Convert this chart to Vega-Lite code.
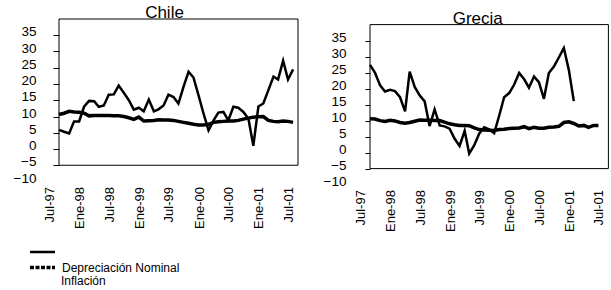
{
  "$schema": "https://vega.github.io/schema/vega-lite/v6.json",
  "padding": {"left": 13, "top": 3, "right": 0, "bottom": 0},
  "config": {
    "font": "Liberation Sans",
    "view": {"stroke": null},
    "axis": {"grid": false, "domain": false, "labelColor": "#000", "tickColor": "#000", "labelFont": "Liberation Sans", "labelOverlap": false, "labelFlush": false},
    "title": {"font": "Liberation Sans", "fontSize": 17, "fontWeight": "normal", "color": "#000", "anchor": "middle", "frame": "group"}
  },
  "datasets": {
    "chile": [
      {"fecha": "1997-07-01", "Depreciación Nominal": 5.9, "Inflación": 10.6},
      {"fecha": "1997-08-01", "Depreciación Nominal": 5.3, "Inflación": 11.0},
      {"fecha": "1997-09-01", "Depreciación Nominal": 4.8, "Inflación": 11.6},
      {"fecha": "1997-10-01", "Depreciación Nominal": 8.5, "Inflación": 11.4},
      {"fecha": "1997-11-01", "Depreciación Nominal": 8.5, "Inflación": 11.3},
      {"fecha": "1997-12-01", "Depreciación Nominal": 13.0, "Inflación": 11.0},
      {"fecha": "1998-01-01", "Depreciación Nominal": 14.8, "Inflación": 10.2},
      {"fecha": "1998-02-01", "Depreciación Nominal": 14.7, "Inflación": 10.3},
      {"fecha": "1998-03-01", "Depreciación Nominal": 13.0, "Inflación": 10.3},
      {"fecha": "1998-04-01", "Depreciación Nominal": 13.4, "Inflación": 10.3},
      {"fecha": "1998-05-01", "Depreciación Nominal": 16.7, "Inflación": 10.3},
      {"fecha": "1998-06-01", "Depreciación Nominal": 16.8, "Inflación": 10.2},
      {"fecha": "1998-07-01", "Depreciación Nominal": 19.5, "Inflación": 10.2},
      {"fecha": "1998-08-01", "Depreciación Nominal": 17.3, "Inflación": 10.0},
      {"fecha": "1998-09-01", "Depreciación Nominal": 15.0, "Inflación": 9.6},
      {"fecha": "1998-10-01", "Depreciación Nominal": 12.1, "Inflación": 9.1},
      {"fecha": "1998-11-01", "Depreciación Nominal": 12.7, "Inflación": 9.8},
      {"fecha": "1998-12-01", "Depreciación Nominal": 11.6, "Inflación": 8.6},
      {"fecha": "1999-01-01", "Depreciación Nominal": 15.2, "Inflación": 8.7},
      {"fecha": "1999-02-01", "Depreciación Nominal": 11.6, "Inflación": 8.8},
      {"fecha": "1999-03-01", "Depreciación Nominal": 12.2, "Inflación": 9.0},
      {"fecha": "1999-04-01", "Depreciación Nominal": 13.4, "Inflación": 8.9},
      {"fecha": "1999-05-01", "Depreciación Nominal": 16.7, "Inflación": 8.9},
      {"fecha": "1999-06-01", "Depreciación Nominal": 16.0, "Inflación": 8.8},
      {"fecha": "1999-07-01", "Depreciación Nominal": 14.0, "Inflación": 8.5},
      {"fecha": "1999-08-01", "Depreciación Nominal": 19.1, "Inflación": 8.2},
      {"fecha": "1999-09-01", "Depreciación Nominal": 23.8, "Inflación": 7.9},
      {"fecha": "1999-10-01", "Depreciación Nominal": 22.0, "Inflación": 7.6},
      {"fecha": "1999-11-01", "Depreciación Nominal": 16.5, "Inflación": 7.4},
      {"fecha": "1999-12-01", "Depreciación Nominal": 11.0, "Inflación": 7.4},
      {"fecha": "2000-01-01", "Depreciación Nominal": 5.7, "Inflación": 7.6},
      {"fecha": "2000-02-01", "Depreciación Nominal": 8.8, "Inflación": 8.2},
      {"fecha": "2000-03-01", "Depreciación Nominal": 11.2, "Inflación": 8.4},
      {"fecha": "2000-04-01", "Depreciación Nominal": 11.4, "Inflación": 8.5},
      {"fecha": "2000-05-01", "Depreciación Nominal": 8.8, "Inflación": 8.6},
      {"fecha": "2000-06-01", "Depreciación Nominal": 13.0, "Inflación": 8.6},
      {"fecha": "2000-07-01", "Depreciación Nominal": 12.7, "Inflación": 8.8},
      {"fecha": "2000-08-01", "Depreciación Nominal": 11.4, "Inflación": 9.2},
      {"fecha": "2000-09-01", "Depreciación Nominal": 9.3, "Inflación": 9.5},
      {"fecha": "2000-10-01", "Depreciación Nominal": 1.0, "Inflación": 9.8},
      {"fecha": "2000-11-01", "Depreciación Nominal": 13.1, "Inflación": 9.9},
      {"fecha": "2000-12-01", "Depreciación Nominal": 14.0, "Inflación": 10.0},
      {"fecha": "2001-01-01", "Depreciación Nominal": 18.1, "Inflación": 8.8},
      {"fecha": "2001-02-01", "Depreciación Nominal": 22.3, "Inflación": 8.5},
      {"fecha": "2001-03-01", "Depreciación Nominal": 21.4, "Inflación": 8.4},
      {"fecha": "2001-04-01", "Depreciación Nominal": 27.2, "Inflación": 8.6},
      {"fecha": "2001-05-01", "Depreciación Nominal": 21.4, "Inflación": 8.5},
      {"fecha": "2001-06-01", "Depreciación Nominal": 24.5, "Inflación": 8.2}
    ],
    "grecia": [
      {"fecha": "1997-07-01", "Depreciación Nominal": 27.4, "Inflación": 10.6},
      {"fecha": "1997-08-01", "Depreciación Nominal": 24.9, "Inflación": 10.5},
      {"fecha": "1997-09-01", "Depreciación Nominal": 21.0, "Inflación": 10.0},
      {"fecha": "1997-10-01", "Depreciación Nominal": 19.1, "Inflación": 9.7},
      {"fecha": "1997-11-01", "Depreciación Nominal": 19.6, "Inflación": 10.1},
      {"fecha": "1997-12-01", "Depreciación Nominal": 19.2, "Inflación": 9.9},
      {"fecha": "1998-01-01", "Depreciación Nominal": 17.3, "Inflación": 9.4},
      {"fecha": "1998-02-01", "Depreciación Nominal": 12.9, "Inflación": 9.2},
      {"fecha": "1998-03-01", "Depreciación Nominal": 25.3, "Inflación": 9.4},
      {"fecha": "1998-04-01", "Depreciación Nominal": 20.5, "Inflación": 9.8},
      {"fecha": "1998-05-01", "Depreciación Nominal": 17.9, "Inflación": 10.2},
      {"fecha": "1998-06-01", "Depreciación Nominal": 16.0, "Inflación": 10.1},
      {"fecha": "1998-07-01", "Depreciación Nominal": 8.3, "Inflación": 10.1},
      {"fecha": "1998-08-01", "Depreciación Nominal": 13.5, "Inflación": 10.0},
      {"fecha": "1998-09-01", "Depreciación Nominal": 8.5, "Inflación": 10.0},
      {"fecha": "1998-10-01", "Depreciación Nominal": 8.2, "Inflación": 9.5},
      {"fecha": "1998-11-01", "Depreciación Nominal": 7.5, "Inflación": 9.0},
      {"fecha": "1998-12-01", "Depreciación Nominal": 4.4, "Inflación": 8.7},
      {"fecha": "1999-01-01", "Depreciación Nominal": 2.1, "Inflación": 8.5},
      {"fecha": "1999-02-01", "Depreciación Nominal": 6.8, "Inflación": 8.5},
      {"fecha": "1999-03-01", "Depreciación Nominal": -0.3, "Inflación": 8.4},
      {"fecha": "1999-04-01", "Depreciación Nominal": 2.3, "Inflación": 7.7},
      {"fecha": "1999-05-01", "Depreciación Nominal": 5.9, "Inflación": 7.2},
      {"fecha": "1999-06-01", "Depreciación Nominal": 7.9, "Inflación": 7.1},
      {"fecha": "1999-07-01", "Depreciación Nominal": 7.3, "Inflación": 7.0},
      {"fecha": "1999-08-01", "Depreciación Nominal": 6.1, "Inflación": 6.9},
      {"fecha": "1999-09-01", "Depreciación Nominal": 11.6, "Inflación": 7.2},
      {"fecha": "1999-10-01", "Depreciación Nominal": 17.3, "Inflación": 7.3},
      {"fecha": "1999-11-01", "Depreciación Nominal": 18.6, "Inflación": 7.5},
      {"fecha": "1999-12-01", "Depreciación Nominal": 21.2, "Inflación": 7.6},
      {"fecha": "2000-01-01", "Depreciación Nominal": 24.9, "Inflación": 7.7},
      {"fecha": "2000-02-01", "Depreciación Nominal": 22.9, "Inflación": 8.1},
      {"fecha": "2000-03-01", "Depreciación Nominal": 20.3, "Inflación": 7.5},
      {"fecha": "2000-04-01", "Depreciación Nominal": 23.8, "Inflación": 7.9},
      {"fecha": "2000-05-01", "Depreciación Nominal": 22.0, "Inflación": 7.6},
      {"fecha": "2000-06-01", "Depreciación Nominal": 16.8, "Inflación": 7.6},
      {"fecha": "2000-07-01", "Depreciación Nominal": 24.9, "Inflación": 7.9},
      {"fecha": "2000-08-01", "Depreciación Nominal": 26.9, "Inflación": 8.0},
      {"fecha": "2000-09-01", "Depreciación Nominal": 29.8, "Inflación": 8.2},
      {"fecha": "2000-10-01", "Depreciación Nominal": 32.7, "Inflación": 9.4},
      {"fecha": "2000-11-01", "Depreciación Nominal": 25.7, "Inflación": 9.6},
      {"fecha": "2000-12-01", "Depreciación Nominal": 16.1, "Inflación": 9.1},
      {"fecha": "2001-01-01", "Inflación": 8.3},
      {"fecha": "2001-02-01", "Inflación": 8.5},
      {"fecha": "2001-03-01", "Inflación": 7.9},
      {"fecha": "2001-04-01", "Inflación": 8.5},
      {"fecha": "2001-05-01", "Inflación": 8.5}
    ]
  },
  "spacing": 22,
  "resolve": {"legend": {"strokeWidth": "shared"}},
  "hconcat": [
    {
      "width": 239,
      "height": 162.5,
      "title": {"text": "Chile", "dx": -14, "offset": -3},
      "layer": [
        {
          "data": {"name": "chile"},
          "transform": [{"fold": ["Depreciación Nominal", "Inflación"], "as": ["serie", "valor"]}],
          "mark": {"type": "line", "color": "#000"},
          "encoding": {
            "x": {
              "field": "fecha", "type": "temporal",
              "scale": {"type": "utc", "domain": [{"year": 1997, "month": 7, "date": 1, "utc": true}, {"year": 2001, "month": 7, "date": 1, "utc": true}]},
              "axis": {
                "title": null, "ticks": false, "labelAngle": -90, "labelFontSize": 13, "labelPadding": 5, "labelOffset": -9.5, "labelOverlap": false, "tickCount": 30,
                "values": [
                  {"year": 1997, "month": 7, "date": 1, "utc": true},
                  {"year": 1998, "month": 1, "date": 1, "utc": true},
                  {"year": 1998, "month": 7, "date": 1, "utc": true},
                  {"year": 1999, "month": 1, "date": 1, "utc": true},
                  {"year": 1999, "month": 7, "date": 1, "utc": true},
                  {"year": 2000, "month": 1, "date": 1, "utc": true},
                  {"year": 2000, "month": 7, "date": 1, "utc": true},
                  {"year": 2001, "month": 1, "date": 1, "utc": true},
                  {"year": 2001, "month": 7, "date": 1, "utc": true}
                ],
                "labelExpr": "(utcmonth(datum.value) == 0 ? 'Ene' : 'Jul') + '-' + utcFormat(datum.value, '%y')"
              }
            },
            "y": {
              "field": "valor", "type": "quantitative",
              "scale": {"domain": [-10, 40], "nice": false, "zero": false},
              "axis": {
                "title": null, "values": [-10, -5, 0, 5, 10, 15, 20, 25, 30, 35], "labelOverlap": false, "tickCount": 30,
                "tickSize": 6, "labelPadding": 17, "labelFontSize": 13.5, "labelOffset": -3.5,
                "tickOpacity": {"condition": {"test": "datum.value < -7", "value": 0}, "value": 1}
              }
            },
            "strokeWidth": {
              "field": "serie", "type": "nominal",
              "scale": {"domain": ["Depreciación Nominal", "Inflación"], "range": [2.5, 3.5]},
              "legend": {
                "title": "Inflación", "titleOrient": "bottom", "titleAnchor": "start", "titleFont": "Liberation Sans", "titleFontSize": 12, "titleFontWeight": "normal", "titleColor": "#000", "titlePadding": 1,
                "orient": "none", "legendX": -23.5, "legendY": 226.5, "direction": "vertical",
                "symbolType": "M-2.5,0H2.5", "symbolSize": 100, "symbolStrokeColor": "#000", "symbolFillColor": "transparent",
                "labelFont": "Liberation Sans", "labelFontSize": 12, "labelColor": "#000", "labelOffset": 12.5, "rowPadding": 2,
                "labelExpr": "datum.label == 'Inflación' ? 'Depreciación Nominal' : ''",
                "encode": {
                  "symbols": {"update": {"strokeDash": {"signal": "datum.index === 1 ? [4, 1.5] : [1, 0]"}}},
                  "title": {"update": {"dx": {"value": 25.5}}}
                }
              }
            }
          }
        },
        {
          "data": {"values": [{}]},
          "mark": {"type": "rect", "filled": false, "stroke": "#000", "strokeWidth": 1},
          "encoding": {
            "x": {"datum": {"year": 1997, "month": 7, "date": 1, "utc": true}, "type": "temporal"},
            "x2": {"datum": {"year": 2001, "month": 7, "date": 1, "utc": true}},
            "y": {"datum": 40, "type": "quantitative"},
            "y2": {"datum": -5}
          }
        }
      ]
    },
    {
      "width": 238.4,
      "height": 165.6,
      "title": {"text": "Grecia", "dx": -11.5, "offset": -8.6},
      "layer": [
        {
          "data": {"name": "grecia"},
          "transform": [{"fold": ["Depreciación Nominal", "Inflación"], "as": ["serie", "valor"]}],
          "mark": {"type": "line", "color": "#000"},
          "encoding": {
            "x": {
              "field": "fecha", "type": "temporal",
              "scale": {"type": "utc", "domain": [{"year": 1997, "month": 7, "date": 1, "utc": true}, {"year": 2001, "month": 7, "date": 1, "utc": true}]},
              "axis": {
                "title": null, "ticks": false, "labelAngle": -90, "labelFontSize": 13, "labelPadding": 5, "labelOffset": -9.5, "labelOverlap": false, "tickCount": 30,
                "values": [
                  {"year": 1997, "month": 7, "date": 1, "utc": true},
                  {"year": 1998, "month": 1, "date": 1, "utc": true},
                  {"year": 1998, "month": 7, "date": 1, "utc": true},
                  {"year": 1999, "month": 1, "date": 1, "utc": true},
                  {"year": 1999, "month": 7, "date": 1, "utc": true},
                  {"year": 2000, "month": 1, "date": 1, "utc": true},
                  {"year": 2000, "month": 7, "date": 1, "utc": true},
                  {"year": 2001, "month": 1, "date": 1, "utc": true},
                  {"year": 2001, "month": 7, "date": 1, "utc": true}
                ],
                "labelExpr": "(utcmonth(datum.value) == 0 ? 'Ene' : 'Jul') + '-' + utcFormat(datum.value, '%y')"
              }
            },
            "y": {
              "field": "valor", "type": "quantitative",
              "scale": {"domain": [-10, 41.75], "nice": false, "zero": false},
              "axis": {
                "title": null, "values": [-10, -5, 0, 5, 10, 15, 20, 25, 30, 35], "labelOverlap": false, "tickCount": 30,
                "tickSize": 5, "labelPadding": 19, "labelFontSize": 13.5, "labelOffset": -3.5,
                "tickOpacity": {"condition": {"test": "datum.value < -7", "value": 0}, "value": 1}
              }
            },
            "strokeWidth": {
              "field": "serie", "type": "nominal",
              "scale": {"domain": ["Depreciación Nominal", "Inflación"], "range": [2.5, 3.5]},
              "legend": null
            }
          }
        },
        {
          "data": {"values": [{}]},
          "mark": {"type": "rect", "filled": false, "stroke": "#000", "strokeWidth": 1},
          "encoding": {
            "x": {"datum": {"year": 1997, "month": 7, "date": 1, "utc": true}, "type": "temporal"},
            "x2": {"datum": {"year": 2001, "month": 7, "date": 1, "utc": true}},
            "y": {"datum": 40, "type": "quantitative"},
            "y2": {"datum": -5}
          }
        }
      ]
    }
  ]
}
